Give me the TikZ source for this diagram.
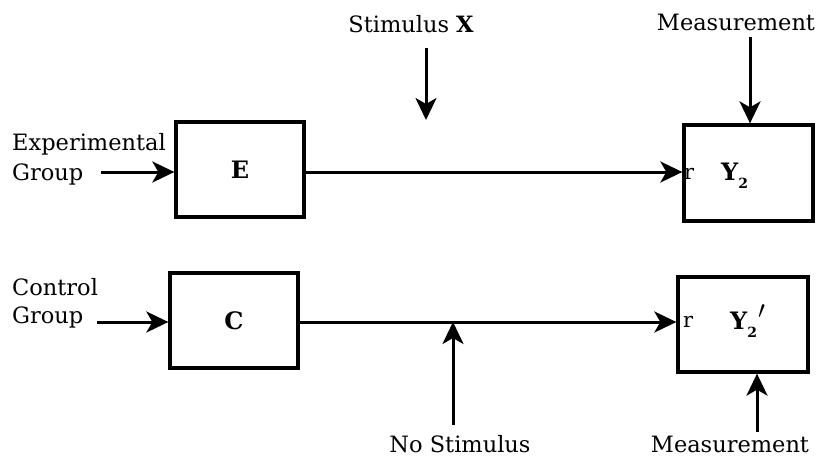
\documentclass[tikz,border=0pt]{standalone}
\usepackage{fontspec}
\setmainfont{DejaVu Serif}
\usetikzlibrary{arrows.meta}
\begin{document}
\begin{tikzpicture}[x=1pt,y=-1pt,
  box/.style={draw,line width=3.3pt,minimum width=128pt,minimum height=95pt,inner sep=0pt},
  arr/.style={line width=3pt,-{Stealth[length=22pt,width=21pt,inset=6pt]}},
  lbl/.style={font=\fontsize{22.5}{26}\selectfont,inner sep=0pt},
  big/.style={font=\fontsize{24}{28}\selectfont\bfseries,inner sep=0pt},
  tiny/.style={font=\fontsize{21}{24}\selectfont,inner sep=0pt}]
\useasboundingbox (0,0) rectangle (822,464);

% boxes
\node[box] (E) at (240,169.5) {};
\node[box,minimum width=129pt,minimum height=96pt] (Y) at (748.5,173) {};
\node[box] (C) at (234,320.5) {};
\node[box,minimum width=130pt] (Yp) at (743,324.5) {};

% box labels
\node[big] (Et) at (E) {E};
\node[big] (Ct) at (C) {C};
\node[big,anchor=base west] (Yt) at (721,180) {Y\raisebox{-0.35em}{\fontsize{14}{14}\selectfont 2}};
\node[big,anchor=base west] (Ypt) at (730,329) {Y\raisebox{-0.35em}{\fontsize{14}{14}\selectfont 2}\hspace{1pt}\raisebox{0.45em}{\fontsize{30}{30}\selectfont$\prime$}};
\node[tiny,anchor=base west] (r1) at (684,179) {r};
\node[tiny,anchor=base west] (r2) at (683,327) {r};

% side labels
\node[lbl,anchor=base west] (exp) at (12,150) {Experimental};
\node[lbl,anchor=base west] (grp1) at (12,180) {Group};
\node[lbl,anchor=base west] (ctl) at (12,295) {Control};
\node[lbl,anchor=base west] (grp2) at (12,323) {Group};
\node[lbl,anchor=base] (stim) at (411,32) {Stimulus \textbf{X}};
\node[lbl,anchor=base] (meas1) at (736,30) {Measurement};
\node[lbl,anchor=base] (nostim) at (460,452) {No Stimulus};
\node[lbl,anchor=base] (meas2) at (730,452) {Measurement};

% free ends of the connectors
\coordinate (eIn) at (101,172);
\coordinate (cIn) at (97,322);
\coordinate (sTop) at (426,48);
\coordinate (sEnd) at (426,120);
\coordinate (m1Top) at (750,37);
\coordinate (nsBot) at (453,425);
\coordinate (m2Bot) at (757,432);

% connectors
\draw[arr] (eIn) -- (E.west |- eIn);
\draw[arr] (cIn) -- (C.west |- cIn);
\draw[arr] (E.east |- eIn) -- (Y.west |- eIn);
\draw[arr] (C.east |- cIn) -- (Yp.west |- cIn);
\draw[arr] (sTop) -- (sEnd);
\draw[arr] (m1Top) -- (Y.north -| m1Top);
\draw[arr] (nsBot) -- (nsBot |- cIn);
\draw[arr] (m2Bot) -- (Yp.south -| m2Bot);
\end{tikzpicture}
\end{document}
